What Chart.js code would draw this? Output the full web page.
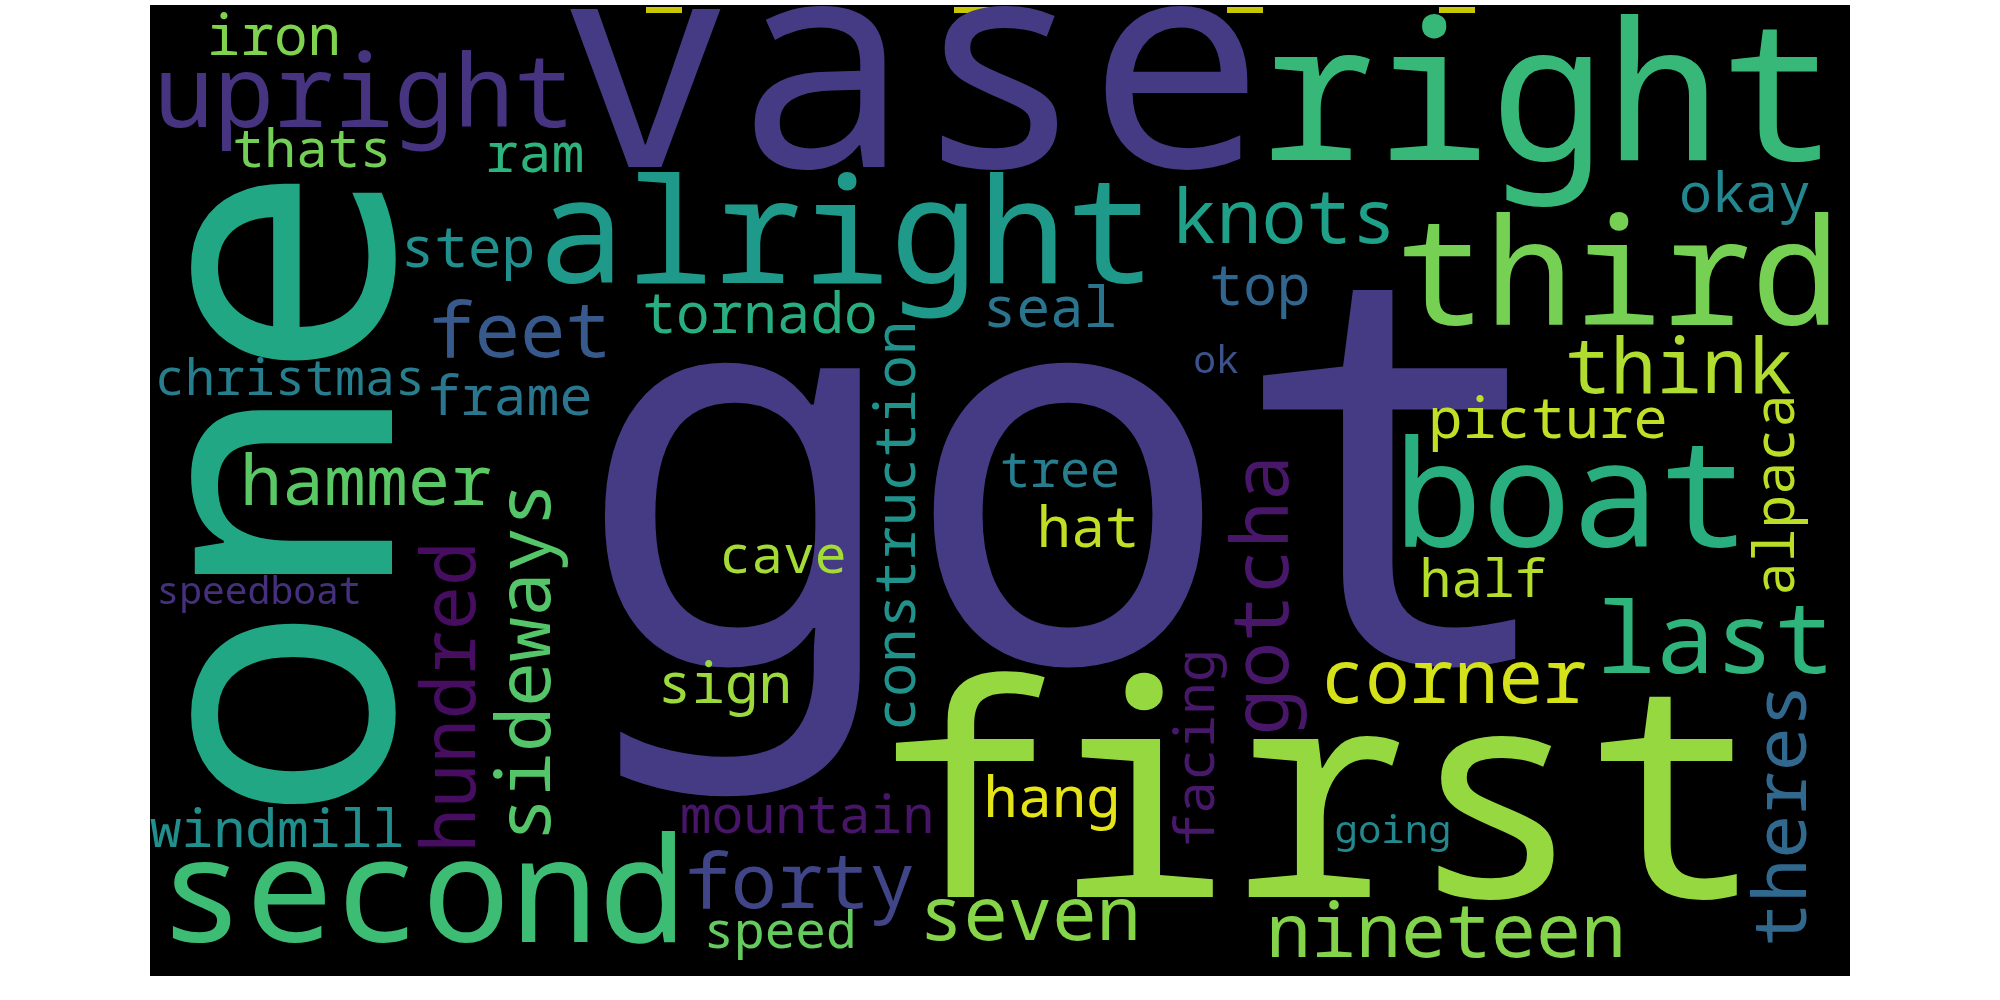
<!DOCTYPE html>
<html>
<head>
<meta charset="utf-8">
<script src="https://cdn.jsdelivr.net/npm/chart.js@4.4.1/dist/chart.umd.min.js"></script>
<style>
  html, body { margin: 0; padding: 0; background: #fff; }
  #wrap { width: 2000px; height: 1000px; position: relative; }
</style>
</head>
<body>
<div id="wrap"><canvas id="cloud"></canvas></div>
<script>
// Word cloud. Positions are cloud pixels (origin top-left),
// x/y = centre + baseline for flat words, baseline + centre for vertical ones.
const words = ['got', 'vase', 'right', 'alright', 'upright', 'iron', 'thats', 'ram', 'step', 'feet',
  'tornado', 'christmas', 'frame', 'hammer', 'speedboat', 'windmill', 'second', 'sign', 'cave', 'mountain',
  'forty', 'speed', 'knots', 'okay', 'third', 'top', 'seal', 'ok', 'think', 'picture',
  'tree', 'boat', 'last', 'half', 'corner', 'hat', 'first', 'hang', 'going', 'seven',
  'nineteen', 'one', 'construction', 'gotcha', 'alpaca', 'theres', 'facing', 'hundred', 'sideways']
const wordX = [918, 761, 1398, 696, 214, 124, 162, 385, 318, 370,
  610, 140, 360, 216, 109, 127, 272, 575, 633, 657,
  650, 630, 1134, 1595, 1468, 1110, 900, 1066, 1529, 1398,
  910, 1421, 1565, 1333, 1304, 938, 1169, 902, 1243, 880,
  1296, 242, 765, 1138, 1644, 1656, 1064, 325, 400]
const wordY = [657, 162, 155, 278, 122, 50, 162, 167, 262, 352,
  328, 390, 410, 500, 599, 842, 937, 698, 568, 828,
  903, 943, 238, 207, 320, 300, 322, 368, 388, 433,
  482, 542, 668, 592, 698, 542, 892, 812, 838, 935,
  952, 488, 521, 590, 490, 810, 743, 692, 657]
const wordSize = [548, 295, 192, 147, 100, 56, 53, 55, 56, 76,
  56, 50, 55, 70, 38, 53, 147, 56, 53, 53,
  77, 51, 75, 55, 148, 56, 56, 38, 76, 57,
  50, 148, 99, 53, 74, 57, 295, 57, 39, 74,
  75, 368, 57, 78, 56, 73, 55, 74, 75]
// 1 = turned a quarter left, reads bottom to top
const wordVertical = [0, 0, 0, 0, 0, 0, 0, 0, 0, 0,
  0, 0, 0, 0, 0, 0, 0, 0, 0, 0,
  0, 0, 0, 0, 0, 0, 0, 0, 0, 0,
  0, 0, 0, 0, 0, 0, 0, 0, 0, 0,
  0, 1, 1, 1, 1, 1, 1, 1, 1]
const wordColors = ['#443b84', '#443b84', '#37b878', '#1f9a8a', '#463480', '#7fd34e', '#73d056', '#2eb37c', '#218f8d', '#38598c',
  '#28ae80', '#277f8e', '#2a768e', '#5ac864', '#46307e', '#218f8d', '#3dbc74', '#9bd93c', '#a5db36', '#481668',
  '#404588', '#65cb5e', '#1fa088', '#24868e', '#75d054', '#31668e', '#2b748e', '#3b528b', '#b0dd2f', '#c0df25',
  '#277e8e', '#29af7f', '#2fb47c', '#b5de2b', '#d5e21a', '#c2df23', '#95d840', '#e5e419', '#23898e', '#86d549',
  '#84d44b', '#22a785', '#21918c', '#481769', '#bade28', '#31688e', '#48186a', '#470d60', '#54c568']

// stray yellow dashes along the top edge
const markX = [514, 822, 1095, 1307]
const markY = [5, 5, 5, 5]

const cloudFont = '"Droid Sans Mono", "Noto Sans Mono", "DejaVu Sans Mono", monospace'

const cloudPlugin = {
  id: 'cloud',
  beforeDatasetsDraw(chart) {
    const { ctx, chartArea } = chart
    ctx.save()
    ctx.fillStyle = '#000'
    ctx.fillRect(chartArea.left, chartArea.top, chartArea.right - chartArea.left, chartArea.bottom - chartArea.top)
    ctx.restore()
  },
  afterDatasetsDraw(chart) {
    const { ctx, chartArea, scales } = chart
    const meta = chart.getDatasetMeta(0)
    const unit = Math.abs(scales.y.getPixelForValue(1) - scales.y.getPixelForValue(0))

    ctx.save()
    ctx.beginPath()
    ctx.rect(chartArea.left, chartArea.top, chartArea.right - chartArea.left, chartArea.bottom - chartArea.top)
    ctx.clip()
    ctx.textAlign = 'center'
    ctx.textBaseline = 'alphabetic'
    meta.data.forEach((pt, i) => {
      ctx.save()
      ctx.translate(pt.x, pt.y)
      if (wordVertical[i]) ctx.rotate(-Math.PI / 2)
      ctx.font = (wordSize[i] * unit) + 'px ' + cloudFont
      ctx.fillStyle = wordColors[i]
      ctx.fillText(words[i], 0, 0)
      ctx.restore()
    })
    ctx.restore()
  }
}

new Chart(document.getElementById('cloud'), {
  type: 'scatter',
  data: {
    datasets: [
      {
        label: 'words',
        data: words.map((w, i) => ({ x: wordX[i], y: wordY[i] })),
        pointRadius: 0,
        pointHoverRadius: 0
      },
      {
        label: 'marks',
        data: markX.map((x, i) => ({ x: x, y: markY[i] })),
        pointStyle: 'line',
        pointRadius: 18,
        pointBorderWidth: 6,
        pointBorderColor: '#c9c703',
        pointBackgroundColor: '#c9c703'
      }
    ]
  },
  options: {
    responsive: true,
    maintainAspectRatio: false,
    animation: false,
    events: [],
    layout: { autoPadding: false, padding: { left: 150, right: 150, top: 5, bottom: 24 } },
    plugins: {
      legend: { display: false },
      tooltip: { enabled: false }
    },
    scales: {
      x: { type: 'linear', min: 0, max: 1700, display: false },
      y: { type: 'linear', min: 0, max: 971, reverse: true, display: false }
    }
  },
  plugins: [cloudPlugin]
})
</script>
</body>
</html>
